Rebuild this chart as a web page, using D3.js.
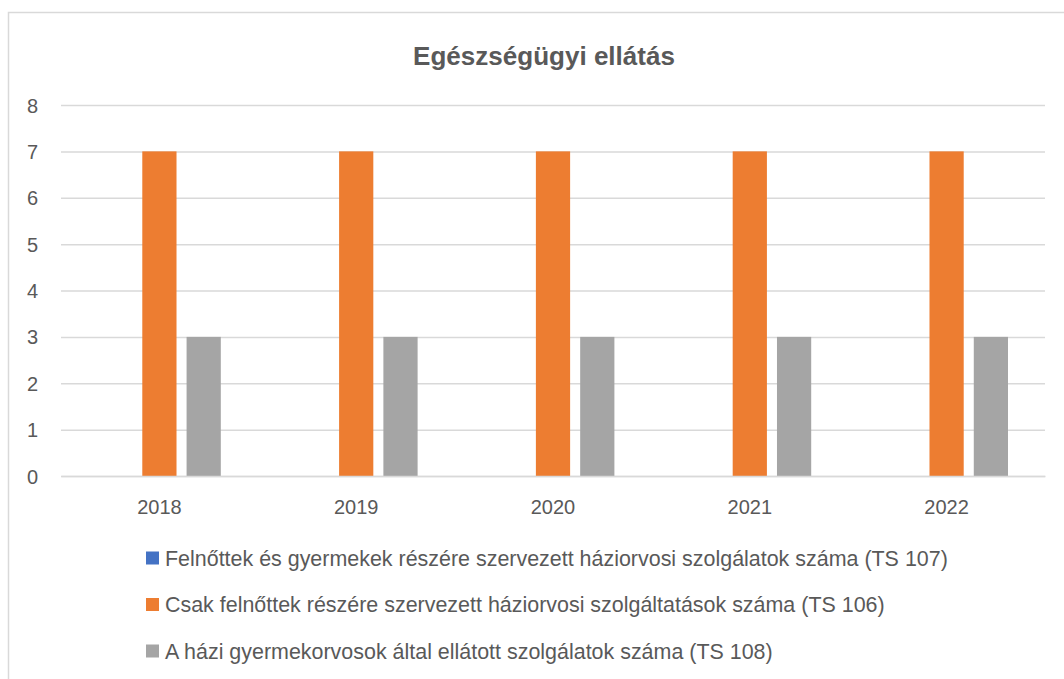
<!DOCTYPE html>
<html><head><meta charset="utf-8">
<script src="https://cdn.jsdelivr.net/npm/d3@7"></script>
<style>html,body{margin:0;padding:0;background:#fff;}svg{display:block;}</style>
</head><body>
<svg id="c" width="1064" height="679"></svg>
<script>
const title = "Egészségügyi ellátás";
const categories = ["2018","2019","2020","2021","2022"];
const seriesNames = [
  "Felnőttek és gyermekek részére szervezett háziorvosi szolgálatok száma (TS 107)",
  "Csak felnőttek részére szervezett háziorvosi szolgáltatások száma (TS 106)",
  "A házi gyermekorvosok által ellátott szolgálatok száma (TS 108)"
];
const ts107 = [0,0,0,0,0];
const ts106 = [7,7,7,7,7];
const ts108 = [3,3,3,3,3];
const yTicks = [0,1,2,3,4,5,6,7,8];
const colors = ["#4472C4","#ED7D31","#A5A5A5"];

const svg = d3.select("#c");
const font = "'Liberation Sans', Arial, sans-serif";
const txt = "#595959";

// chart border
svg.append("path").attr("d","M8.5,700 V12.5 H1100").attr("fill","none").attr("stroke","#d9d9d9").attr("stroke-width",1.5);

const L=61, R=1045, T=105, B=476;
const x = d3.scaleBand().domain(categories).range([L,R]).paddingInner(0).paddingOuter(0);
const y = d3.scaleLinear().domain([0,8]).range([B,T]);
const inner = d3.scaleBand().domain([0,1,2]).range([37, x.bandwidth()-37]).paddingInner(10/44);

// grid
const yAxis = d3.axisLeft(y).tickValues(yTicks).tickSize(-(R-L)).tickFormat(d3.format("d"));
const ga = svg.append("g").attr("transform",`translate(${L},0)`).call(yAxis);
ga.select(".domain").remove();
ga.selectAll(".tick line").attr("stroke","#d9d9d9").attr("stroke-width",1.5);
ga.selectAll(".tick text").attr("x",-23).attr("fill",txt).attr("font-family",font).attr("font-size",20).attr("dy","0.35em");

const series = [ts107, ts106, ts108];
series.forEach((vals,si)=>{
  svg.append("g").selectAll("rect").data(vals).join("rect")
    .attr("x",(d,i)=>x(categories[i])+inner(si))
    .attr("width",inner.bandwidth())
    .attr("y",d=>y(d))
    .attr("height",d=>B-y(d))
    .attr("fill",colors[si]);
});

// x axis
const xa = svg.append("g").attr("transform",`translate(0,${B})`).call(d3.axisBottom(x).tickSize(0));
xa.select(".domain").attr("stroke","#d9d9d9").attr("stroke-width",1.5);
xa.selectAll(".tick text").attr("y",31).attr("fill",txt).attr("font-family",font).attr("font-size",20).attr("dy","0.35em");

// title
const tt = svg.append("text").attr("x",544).attr("y",65).attr("text-anchor","middle")
  .attr("fill",txt).attr("font-family",font).attr("font-weight","bold").attr("font-size",23).text(title);
const tw = tt.node().getComputedTextLength();
tt.attr("font-size", 23*262/tw);

// legend
const lg = svg.append("g");
seriesNames.forEach((n,i)=>{
  const cy = 558 + i*46.5;
  lg.append("rect").attr("x",146).attr("y",cy-6.5).attr("width",13).attr("height",13).attr("fill",colors[i]);
  lg.append("text").attr("x",165).attr("y",cy).attr("dy","0.35em").attr("fill",txt)
    .attr("font-family",font).attr("font-size",18).text(n);
});
const targetW = 948-165;
const w0 = lg.select("text").node().getComputedTextLength();
lg.selectAll("text").attr("font-size",18*targetW/w0);
</script>
</body></html>
